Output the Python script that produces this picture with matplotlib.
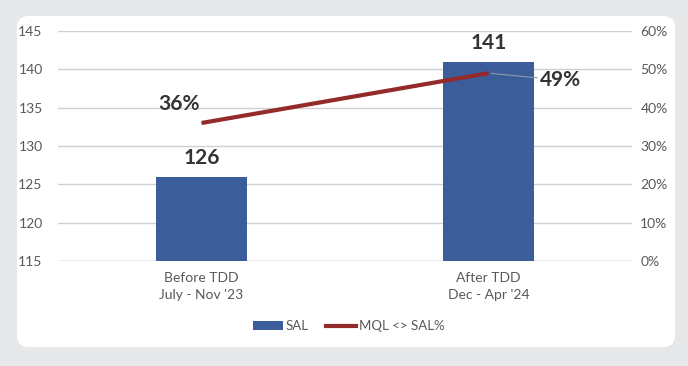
import matplotlib.pyplot as plt
from matplotlib.patches import FancyBboxPatch, Patch
from matplotlib.lines import Line2D
import numpy as np

categories = ["Before TDD\nJuly - Nov '23", "After TDD\nDec - Apr '24"]
sal = [126, 141]
mql_sal_pct = [36, 49]
left_ticks = [115, 120, 125, 130, 135, 140, 145]
right_ticks = [0, 10, 20, 30, 40, 50, 60]

bar_color = "#3b5e9b"
line_color = "#942b2a"
text_gray = "#595959"

plt.rcParams['font.family'] = ['Lato', 'DejaVu Sans']

fig = plt.figure(figsize=(6.88, 3.66), dpi=100)
fig.patch.set_facecolor("#e7e8ea")

# white rounded panel (behind the axes)
panel = FancyBboxPatch((0.17, 0.19), 6.58, 3.31,
                       boxstyle="round,pad=0,rounding_size=0.12",
                       transform=fig.dpi_scale_trans,
                       facecolor="white", edgecolor="none", zorder=-10)
fig.patches.append(panel)

ax = fig.add_axes([0.0843, 0.2869, 0.8343, 0.6284])
ax.set_facecolor("none")
x = np.arange(len(categories))
ax.bar(x, sal, width=0.32, color=bar_color, zorder=2)
ax.set_xlim(-0.5, 1.5)
ax.set_ylim(115, 145)
ax.set_yticks(left_ticks)
ax.grid(axis="y", color="#d0d0d0", linewidth=1, zorder=0)
for s in ax.spines.values():
    s.set_visible(False)
ax.tick_params(axis="y", length=0, pad=11, labelsize=10, labelcolor=text_gray)
ax.tick_params(axis="x", length=0, pad=8, labelsize=10, labelcolor=text_gray)
ax.set_xticks(x)
ax.set_xticklabels(categories, linespacing=1.45)
ax.axhline(115, color="#c8c8c8", linewidth=1, zorder=1)

for xi, v in zip(x, sal):
    ax.text(xi, v + 1.1, str(v), ha="center", va="bottom",
            fontsize=15, fontweight="bold", color="#333333")

ax2 = ax.twinx()
ax2.set_ylim(0, 60)
ax2.set_yticks(right_ticks)
ax2.set_yticklabels([f"{t}%" for t in right_ticks])
ax2.tick_params(axis="y", length=0, pad=6, labelsize=10, labelcolor=text_gray)
for s in ax2.spines.values():
    s.set_visible(False)
ax2.plot(x, mql_sal_pct, color=line_color, linewidth=3, solid_capstyle="butt", zorder=3)

ax2.text(x[0] - 0.08, mql_sal_pct[0] + 5, f"{mql_sal_pct[0]}%", ha="center", va="center",
         fontsize=15, fontweight="bold", color="#333333")
ax2.annotate(f"{mql_sal_pct[1]}%", xy=(x[1], mql_sal_pct[1]),
             xytext=(x[1] + 0.18, mql_sal_pct[1] - 1.8), ha="left", va="center",
             fontsize=15, fontweight="bold", color="#333333",
             arrowprops=dict(arrowstyle="-", color="#8a9ab0", lw=0.8, shrinkA=0, shrinkB=2))

handles = [Patch(facecolor=bar_color, edgecolor="none"),
           Line2D([0], [0], color=line_color, linewidth=3)]
fig.legend(handles, ["SAL", "MQL <> SAL%"], loc="center", bbox_to_anchor=(0.507, 0.108),
           ncol=2, frameon=False, fontsize=9.5, labelcolor=text_gray,
           handlelength=2.3, handletextpad=0.2, columnspacing=1.3)

fig.savefig("out.png", dpi=100, facecolor=fig.get_facecolor())
